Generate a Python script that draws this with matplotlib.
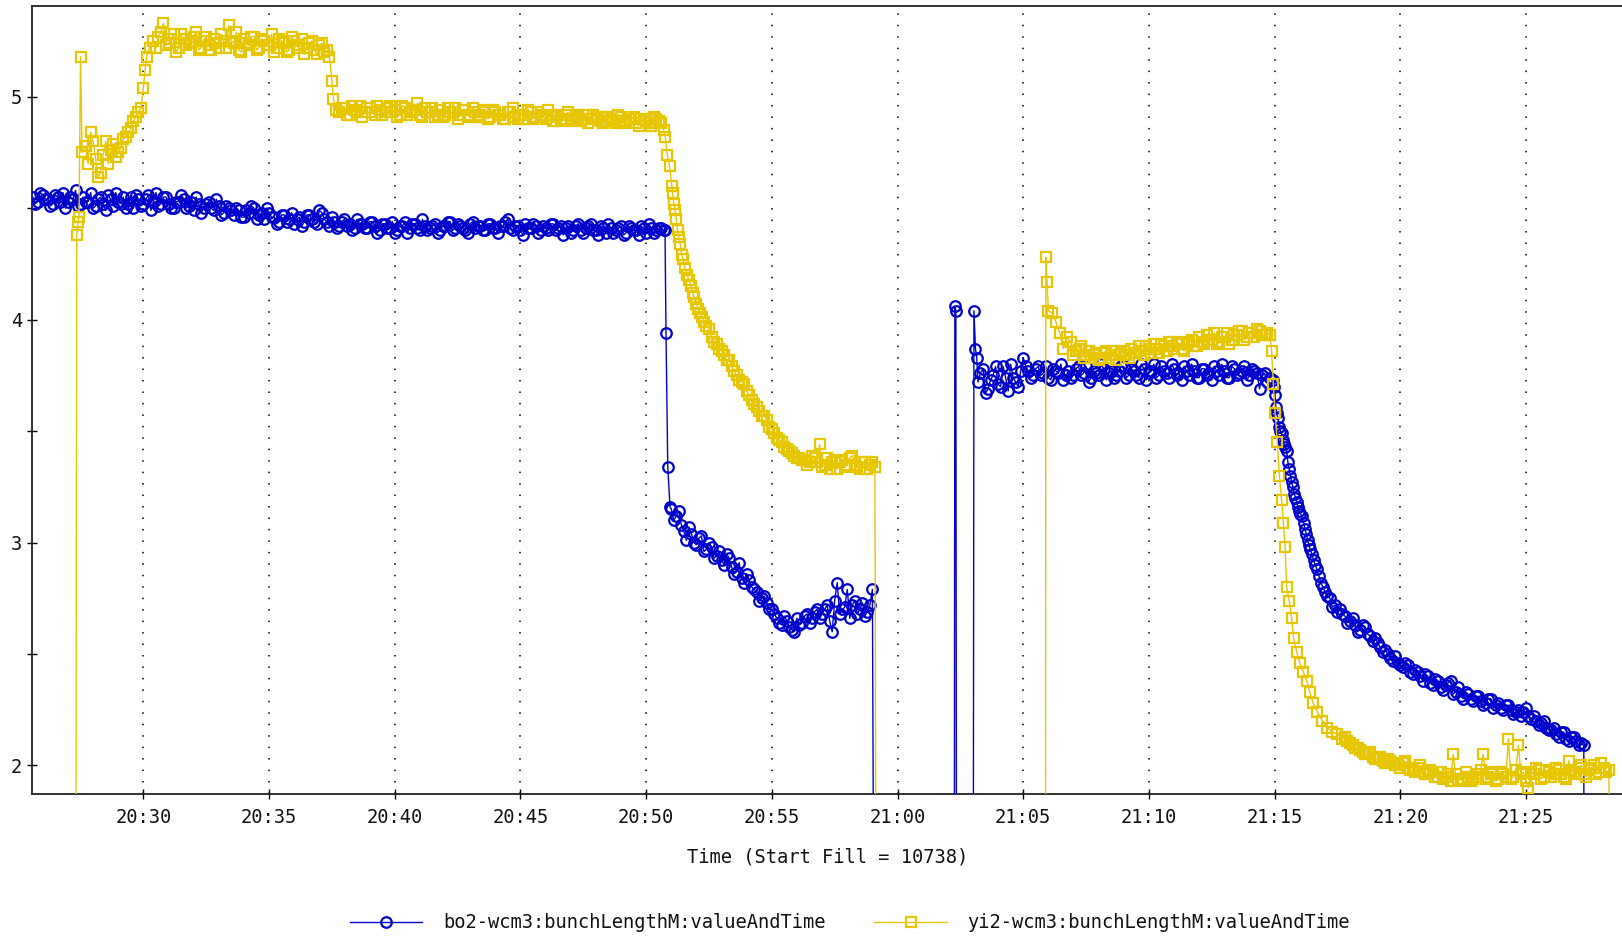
import numpy as np
import matplotlib
matplotlib.use("Agg")
import matplotlib.pyplot as plt
import matplotlib.dates as mdates
from matplotlib.ticker import FixedLocator

# times are minutes after 20:00; steady stretches come as two interleaved
# 12 s readouts (the *2 lists sit 6 s after the first ones)
STEP = 0.2
HALF = 0.1

# ---- bo2-wcm3 (blue) ----
BLUE_A_T0 = 25.6
BLUE_A = [
    4.55, 4.53, 4.56, 4.54, 4.52, 4.55, 4.57, 4.53, 4.54, 4.51,
    4.55, 4.53, 4.50, 4.54, 4.52, 4.56, 4.51, 4.53, 4.55, 4.52,
    4.50, 4.54, 4.52, 4.56, 4.53, 4.51, 4.55, 4.52, 4.50, 4.53,
    4.54, 4.51, 4.49, 4.52, 4.50, 4.53, 4.49, 4.51, 4.48, 4.50,
    4.47, 4.49, 4.46, 4.48, 4.50, 4.47, 4.45, 4.48, 4.46, 4.44,
    4.47, 4.45, 4.43, 4.46, 4.44, 4.47, 4.44, 4.49, 4.45, 4.42,
    4.44, 4.42, 4.45, 4.43, 4.41, 4.43, 4.41, 4.44, 4.42, 4.40,
    4.43, 4.41, 4.39, 4.42, 4.44, 4.41, 4.43, 4.40, 4.42, 4.41,
    4.43, 4.40, 4.42, 4.44, 4.41, 4.42, 4.40, 4.43, 4.41, 4.42,
    4.40, 4.43, 4.41, 4.42, 4.44, 4.41, 4.42, 4.40, 4.43, 4.41,
    4.42, 4.40, 4.41, 4.43, 4.40, 4.42, 4.41, 4.39, 4.42, 4.40,
    4.41, 4.43, 4.40, 4.42, 4.39, 4.41, 4.40, 4.42, 4.39, 4.41,
    4.40, 4.42, 4.39, 4.41, 4.40, 4.41,
]
BLUE_A2 = [
    4.52, 4.57, 4.54, 4.51, 4.56, 4.53, 4.50, 4.55, 4.58, 4.52,
    4.53, 4.57, 4.51, 4.55, 4.49, 4.54, 4.57, 4.52, 4.50, 4.55,
    4.56, 4.51, 4.54, 4.49, 4.57, 4.52, 4.55, 4.50, 4.53, 4.56,
    4.50, 4.53, 4.55, 4.48, 4.52, 4.50, 4.54, 4.47, 4.51, 4.49,
    4.50, 4.46, 4.49, 4.51, 4.45, 4.48, 4.50, 4.46, 4.43, 4.47,
    4.44, 4.48, 4.45, 4.42, 4.47, 4.45, 4.43, 4.48, 4.44, 4.46,
    4.41, 4.44, 4.42, 4.40, 4.45, 4.43, 4.41, 4.44, 4.39, 4.43,
    4.41, 4.44, 4.40, 4.42, 4.39, 4.43, 4.41, 4.45, 4.40, 4.42,
    4.39, 4.42, 4.44, 4.40, 4.43, 4.41, 4.39, 4.44, 4.42, 4.40,
    4.43, 4.41, 4.39, 4.42, 4.45, 4.40, 4.42, 4.38, 4.41, 4.43,
    4.39, 4.42, 4.40, 4.43, 4.41, 4.38, 4.42, 4.40, 4.43, 4.39,
    4.42, 4.40, 4.38, 4.41, 4.43, 4.39, 4.41, 4.38, 4.42, 4.40,
    4.38, 4.41, 4.43, 4.39, 4.41, 4.40,
]
BLUE_DROP_T = [50.75, 50.79, 50.86, 50.95]
BLUE_DROP = [4.40, 3.94, 3.34, 3.16]
BLUE_B_T0 = 51.0
BLUE_B = [
    3.15, 3.12, 3.08, 3.01, 3.04, 2.99, 3.03, 2.97, 2.98, 2.94,
    2.92, 2.95, 2.89, 2.87, 2.84, 2.86, 2.80, 2.78, 2.75, 2.73,
    2.70, 2.66, 2.63, 2.65, 2.61, 2.66, 2.64, 2.68, 2.66, 2.70,
    2.68, 2.72, 2.60, 2.82, 2.70, 2.79, 2.72, 2.68, 2.73, 2.69,
    2.79,
]
BLUE_B2 = [
    3.10, 3.14, 3.05, 3.07, 3.00, 3.02, 2.96, 3.00, 2.93, 2.96,
    2.90, 2.93, 2.86, 2.91, 2.82, 2.83, 2.79, 2.74, 2.76, 2.70,
    2.68, 2.64, 2.67, 2.62, 2.60, 2.63, 2.67, 2.64, 2.69, 2.66,
    2.70, 2.65, 2.74, 2.68, 2.71, 2.66, 2.74, 2.70, 2.67, 2.72,
]
BLUE_GAP_T = [59.1, 62.25, 62.28, 62.32, 62.36, 63.0, 63.04, 63.1, 63.15]
BLUE_GAP = [0.0, 0.0, 4.06, 4.04, 0.0, 0.0, 4.04, 3.87, 3.83]
BLUE_C_T0 = 63.2
BLUE_C = [
    3.72, 3.78, 3.69, 3.75, 3.71, 3.79, 3.68, 3.74, 3.70, 3.83,
    3.77, 3.75, 3.79, 3.76, 3.74, 3.78, 3.76, 3.73, 3.77, 3.75,
    3.79, 3.76, 3.72, 3.77, 3.75, 3.78, 3.76, 3.74, 3.77, 3.79,
    3.75, 3.77, 3.74, 3.78, 3.76, 3.80, 3.75, 3.77, 3.74, 3.78,
    3.76, 3.79, 3.75, 3.77, 3.74, 3.78, 3.76, 3.79, 3.75, 3.77,
    3.74, 3.78, 3.76, 3.79, 3.75, 3.77, 3.69, 3.76, 3.74,
]
BLUE_C2 = [
    3.76, 3.67, 3.73, 3.79, 3.70, 3.74, 3.80, 3.72, 3.77, 3.79,
    3.74, 3.78, 3.75, 3.79, 3.73, 3.77, 3.80, 3.75, 3.74, 3.78,
    3.75, 3.79, 3.74, 3.76, 3.80, 3.73, 3.77, 3.75, 3.79, 3.74,
    3.78, 3.75, 3.80, 3.73, 3.77, 3.74, 3.79, 3.76, 3.80, 3.75,
    3.73, 3.77, 3.80, 3.74, 3.78, 3.75, 3.73, 3.77, 3.80, 3.74,
    3.79, 3.75, 3.77, 3.73, 3.78, 3.76, 3.75, 3.72,
]
BLUE_D_T = [74.95, 75.02, 75.08, 75.18, 75.28, 75.38, 75.48, 75.58, 75.68, 75.78,
            75.88, 75.98, 76.08, 76.21, 76.31, 76.41, 76.55, 76.68, 76.85, 77.0]
BLUE_D = [3.73, 3.66, 3.58, 3.52, 3.49, 3.44, 3.41, 3.33, 3.27, 3.22,
          3.18, 3.14, 3.12, 3.06, 3.01, 2.97, 2.92, 2.88, 2.82, 2.78]
BLUE_D2_T = [74.98, 75.05, 75.13, 75.23, 75.33, 75.43, 75.53, 75.63, 75.73, 75.83,
             75.93, 76.03, 76.15, 76.26, 76.36, 76.48, 76.62, 76.76, 76.92, 77.1]
BLUE_D2 = [3.70, 3.61, 3.56, 3.50, 3.46, 3.43, 3.36, 3.30, 3.25, 3.20,
           3.16, 3.13, 3.09, 3.04, 2.99, 2.95, 2.90, 2.85, 2.80, 2.76]
BLUE_E_T0 = 77.2
BLUE_E = [
    2.75, 2.72, 2.70, 2.67, 2.65, 2.63, 2.61, 2.62, 2.58, 2.57,
    2.53, 2.52, 2.48, 2.49, 2.45, 2.46, 2.42, 2.43, 2.40, 2.41,
    2.37, 2.39, 2.35, 2.36, 2.38, 2.33, 2.31, 2.33, 2.30, 2.31,
    2.29, 2.28, 2.30, 2.27, 2.26, 2.27, 2.25, 2.24, 2.22, 2.26,
    2.21, 2.20, 2.19, 2.17, 2.16, 2.14, 2.15, 2.12, 2.13, 2.11,
    2.10,
]
BLUE_E2 = [
    2.71, 2.69, 2.68, 2.64, 2.66, 2.60, 2.63, 2.59, 2.56, 2.55,
    2.51, 2.50, 2.47, 2.46, 2.44, 2.45, 2.41, 2.42, 2.38, 2.40,
    2.36, 2.38, 2.34, 2.37, 2.32, 2.35, 2.30, 2.32, 2.29, 2.31,
    2.27, 2.30, 2.26, 2.28, 2.25, 2.27, 2.23, 2.25, 2.24, 2.22,
    2.22, 2.18, 2.20, 2.16, 2.17, 2.13, 2.15, 2.11, 2.13, 2.09,
]
BLUE_END_T = [87.3, 87.33]
BLUE_END = [2.09, 0.0]

# ---- yi2-wcm3 (yellow) ----
YEL_START_T = [27.3, 27.35, 27.4, 27.44, 27.5, 27.56]
YEL_START = [0.0, 4.38, 4.44, 4.46, 5.18, 4.75]
YEL_A_T0 = 27.7
YEL_A = [4.78, 4.84, 4.72, 4.66, 4.80, 4.76, 4.73, 4.77, 4.82, 4.86, 4.91, 4.95]
YEL_A2 = [4.70, 4.80, 4.64, 4.74, 4.70, 4.79, 4.75, 4.81, 4.84, 4.89, 4.93]
YEL_RISE_T = [30.0, 30.07, 30.13, 30.25]
YEL_RISE = [5.04, 5.12, 5.18, 5.22]
YEL_P_T0 = 30.4
YEL_P = [
    5.25, 5.27, 5.33, 5.24, 5.28, 5.22, 5.26, 5.24, 5.27, 5.21,
    5.25, 5.23, 5.26, 5.22, 5.25, 5.32, 5.24, 5.21, 5.26, 5.23,
    5.27, 5.22, 5.25, 5.23, 5.20, 5.26, 5.24, 5.21, 5.25, 5.22,
    5.19, 5.24, 5.21, 5.23, 5.20, 5.18,
]
YEL_P2 = [
    5.22, 5.29, 5.23, 5.26, 5.20, 5.28, 5.23, 5.25, 5.29, 5.22,
    5.27, 5.21, 5.24, 5.28, 5.22, 5.25, 5.29, 5.20, 5.24, 5.27,
    5.21, 5.26, 5.23, 5.28, 5.22, 5.25, 5.20, 5.27, 5.23, 5.26,
    5.22, 5.25, 5.19, 5.24, 5.21,
]
YEL_STEP_T = [37.5, 37.56, 37.65]
YEL_STEP = [5.07, 4.99, 4.94]
YEL_B_T0 = 37.8
YEL_B = [
    4.93, 4.95, 4.92, 4.94, 4.96, 4.93, 4.95, 4.92, 4.94, 4.93,
    4.96, 4.94, 4.92, 4.95, 4.93, 4.94, 4.92, 4.95, 4.93, 4.91,
    4.94, 4.92, 4.93, 4.95, 4.92, 4.94, 4.91, 4.93, 4.92, 4.94,
    4.91, 4.93, 4.92, 4.90, 4.93, 4.91, 4.92, 4.90, 4.93, 4.91,
    4.92, 4.90, 4.92, 4.91, 4.89, 4.92, 4.90, 4.91, 4.89, 4.92,
    4.90, 4.91, 4.89, 4.91, 4.90, 4.88, 4.91, 4.89, 4.90, 4.88,
    4.90, 4.89, 4.87, 4.90, 4.88,
]
YEL_B2 = [
    4.95, 4.92, 4.96, 4.93, 4.91, 4.95, 4.93, 4.96, 4.92, 4.95,
    4.93, 4.91, 4.96, 4.92, 4.94, 4.97, 4.91, 4.93, 4.95, 4.92,
    4.91, 4.95, 4.93, 4.90, 4.94, 4.92, 4.95, 4.91, 4.93, 4.90,
    4.94, 4.92, 4.90, 4.93, 4.95, 4.90, 4.92, 4.94, 4.90, 4.93,
    4.91, 4.94, 4.89, 4.92, 4.90, 4.93, 4.89, 4.92, 4.90, 4.88,
    4.92, 4.90, 4.88, 4.91, 4.89, 4.92, 4.88, 4.90, 4.91, 4.87,
    4.90, 4.88, 4.91, 4.89,
]
YEL_C_T = [50.7, 50.76, 50.84, 50.93, 51.02, 51.1, 51.2, 51.3, 51.42, 51.55,
           51.7, 51.85, 52.0, 52.15, 52.3, 52.5, 52.7, 52.9, 53.1, 53.3,
           53.5, 53.7, 53.9, 54.1, 54.3, 54.5, 54.7, 54.9, 55.1, 55.3,
           55.5, 55.7, 55.9, 56.1]
YEL_C = [4.85, 4.82, 4.74, 4.69, 4.60, 4.52, 4.45, 4.37, 4.29, 4.23,
         4.18, 4.12, 4.07, 4.03, 3.99, 3.96, 3.90, 3.87, 3.84, 3.82,
         3.77, 3.73, 3.71, 3.66, 3.62, 3.59, 3.57, 3.52, 3.49, 3.46,
         3.43, 3.41, 3.39, 3.38]
YEL_C2_T = [51.05, 51.15, 51.25, 51.36, 51.48, 51.62, 51.78, 51.92, 52.08, 52.22,
            52.4, 52.6, 52.8, 53.0, 53.2, 53.4, 53.6, 53.8, 54.0, 54.2,
            54.4, 54.6, 54.8, 55.0, 55.2, 55.4, 55.6, 55.8, 56.0, 56.2]
YEL_C2 = [4.57, 4.49, 4.40, 4.34, 4.27, 4.20, 4.15, 4.10, 4.05, 4.01,
          3.97, 3.92, 3.89, 3.86, 3.82, 3.79, 3.75, 3.72, 3.68, 3.64,
          3.61, 3.57, 3.55, 3.51, 3.47, 3.45, 3.42, 3.40, 3.38, 3.37]
YEL_D_T0 = 56.3
YEL_D = [3.37, 3.36, 3.38, 3.44, 3.35, 3.33, 3.37, 3.36, 3.34, 3.38,
         3.35, 3.33, 3.36, 3.35, 3.34]
YEL_D2 = [3.35, 3.39, 3.36, 3.34, 3.38, 3.36, 3.33, 3.37, 3.35, 3.39,
          3.34, 3.36, 3.33, 3.36]
YEL_GAP_T = [59.17, 65.88, 65.9, 65.95, 66.0, 66.15, 66.3, 66.45, 66.6, 66.75]
YEL_GAP = [0.0, 0.0, 4.28, 4.17, 4.04, 4.03, 3.99, 3.94, 3.87, 3.92]
YEL_E_T0 = 66.9
YEL_E = [
    3.90, 3.86, 3.88, 3.84, 3.83, 3.85, 3.83, 3.86, 3.84, 3.82,
    3.85, 3.84, 3.87, 3.85, 3.86, 3.88, 3.85, 3.87, 3.89, 3.86,
    3.88, 3.90, 3.87, 3.89, 3.91, 3.88, 3.90, 3.93, 3.91, 3.89,
    3.92, 3.94, 3.91, 3.93, 3.95, 3.92, 3.94, 3.96, 3.93, 3.94,
]
YEL_E2 = [
    3.84, 3.87, 3.83, 3.86, 3.84, 3.82, 3.85, 3.83, 3.86, 3.84,
    3.86, 3.83, 3.85, 3.88, 3.84, 3.87, 3.89, 3.85, 3.88, 3.90,
    3.87, 3.89, 3.86, 3.90, 3.88, 3.92, 3.89, 3.91, 3.94, 3.90,
    3.92, 3.89, 3.93, 3.95, 3.91, 3.94, 3.92, 3.95, 3.93,
]
YEL_F_T = [74.82, 74.88, 74.95, 75.02, 75.11, 75.19, 75.28, 75.35, 75.42, 75.48,
           75.58, 75.68, 75.76, 75.88, 76.0, 76.14, 76.28, 76.4, 76.53, 76.7,
           76.9, 77.1, 77.3, 77.5]
YEL_F = [3.93, 3.86, 3.71, 3.58, 3.45, 3.30, 3.19, 3.09, 2.98, 2.80,
         2.74, 2.66, 2.57, 2.51, 2.46, 2.42, 2.38, 2.33, 2.28, 2.24,
         2.20, 2.17, 2.15, 2.14]
YEL_G_T0 = 77.7
YEL_G = [
    2.12, 2.11, 2.09, 2.08, 2.06, 2.05, 2.04, 2.03, 2.02, 2.03,
    2.01, 2.00, 2.01, 1.99, 1.98, 1.99, 1.97, 1.96, 1.97, 1.95,
    1.94, 1.96, 2.05, 1.94, 1.93, 1.95, 1.94, 1.96, 2.05, 1.95,
    1.97, 1.94, 1.96, 2.12, 1.95, 2.09, 1.97, 1.90, 1.96, 1.98,
    1.95, 1.97, 1.96, 1.98, 1.95, 2.02, 1.97, 1.99, 1.96, 1.98,
    2.00, 1.97, 1.99, 1.98,
]
YEL_G2 = [
    2.13, 2.10, 2.08, 2.07, 2.05, 2.06, 2.03, 2.04, 2.01, 2.02,
    2.00, 1.99, 2.02, 1.98, 1.97, 2.00, 1.96, 1.98, 1.95, 1.97,
    1.95, 1.93, 1.96, 1.94, 1.97, 1.93, 1.95, 1.98, 1.94, 1.96,
    1.93, 1.97, 1.95, 1.94, 1.98, 1.96, 1.93, 1.97, 1.99, 1.94,
    1.98, 1.95, 1.99, 1.96, 1.94, 1.98, 1.96, 2.00, 1.95, 1.99,
    1.96, 2.01, 1.97,
]
YEL_END_T = [88.4]
YEL_END = [0.0]

BLUE = "#0000cc"
YELLOW = "#e6c600"
BASE = np.datetime64("2000-01-01T20:00:00")


def run(t0, vals):
    return [t0 + STEP * i for i in range(len(vals))], list(vals)


def series(*pieces):
    ts, vs = [], []
    for t, v in pieces:
        ts += list(t)
        vs += list(v)
    ts, vs = np.array(ts), np.array(vs)
    order = np.argsort(ts, kind="stable")
    ms = np.round(ts[order] * 60000).astype("timedelta64[ms]")
    return BASE + ms, vs[order]


def when(minutes):
    return BASE + np.timedelta64(int(round(minutes * 60000)), "ms")


bt, bv = series(
    run(BLUE_A_T0, BLUE_A), run(BLUE_A_T0 + HALF, BLUE_A2),
    (BLUE_DROP_T, BLUE_DROP),
    run(BLUE_B_T0, BLUE_B), run(BLUE_B_T0 + HALF, BLUE_B2),
    (BLUE_GAP_T, BLUE_GAP),
    run(BLUE_C_T0, BLUE_C), run(BLUE_C_T0 + HALF, BLUE_C2),
    (BLUE_D_T, BLUE_D), (BLUE_D2_T, BLUE_D2),
    run(BLUE_E_T0, BLUE_E), run(BLUE_E_T0 + HALF, BLUE_E2),
    (BLUE_END_T, BLUE_END),
)
yt, yv = series(
    (YEL_START_T, YEL_START),
    run(YEL_A_T0, YEL_A), run(YEL_A_T0 + HALF, YEL_A2),
    (YEL_RISE_T, YEL_RISE),
    run(YEL_P_T0, YEL_P), run(YEL_P_T0 + HALF, YEL_P2),
    (YEL_STEP_T, YEL_STEP),
    run(YEL_B_T0, YEL_B), run(YEL_B_T0 + HALF, YEL_B2),
    (YEL_C_T, YEL_C), (YEL_C2_T, YEL_C2),
    run(YEL_D_T0, YEL_D), run(YEL_D_T0 + HALF, YEL_D2),
    (YEL_GAP_T, YEL_GAP),
    run(YEL_E_T0, YEL_E), run(YEL_E_T0 + HALF, YEL_E2),
    (YEL_F_T, YEL_F),
    run(YEL_G_T0, YEL_G), run(YEL_G_T0 + HALF, YEL_G2),
    (YEL_END_T, YEL_END),
)

plt.rcParams["font.family"] = ["DejaVu Sans Mono"]
fig = plt.figure(figsize=(16.22, 9.38), dpi=100)
fig.patch.set_facecolor("white")
ax = fig.add_axes([0.0199, 0.1535, 0.9801, 0.8401])

lb, = ax.plot(bt, bv, color=BLUE, lw=1.0, marker="o", ms=7.6, mfc="none",
              mec=BLUE, mew=1.6, zorder=3)
ly, = ax.plot(yt, yv, color=YELLOW, lw=1.0, marker="s", ms=7.2, mfc="none",
              mec=YELLOW, mew=1.6, zorder=4)

ax.set_xlim(when(25.58), when(88.82))
ax.set_ylim(1.872, 5.407)

ax.xaxis.set_major_locator(mdates.MinuteLocator(byminute=range(0, 60, 5)))
ax.xaxis.set_major_formatter(mdates.DateFormatter("%H:%M"))
ax.yaxis.set_major_locator(FixedLocator([2, 3, 4, 5]))
ax.yaxis.set_minor_locator(FixedLocator([2.5, 3.5, 4.5]))

ax.tick_params(axis="both", which="both", direction="inout", length=6.5,
               width=1.0, color="black", labelsize=13.5, labelcolor="#111111")
ax.tick_params(axis="x", pad=7)
ax.tick_params(axis="y", pad=4)

ax.grid(axis="x", which="major", color="black", linestyle=(0, (1, 6.5)), lw=1.1)
ax.set_axisbelow(True)

for side in ("left", "top", "bottom"):
    ax.spines[side].set_linewidth(1.3)
    ax.spines[side].set_color("#222222")
ax.spines["right"].set_visible(False)

ax.set_xlabel("Time (Start Fill = 10738)", fontsize=13.5, va="center", color="#111111")
ax.xaxis.set_label_coords(0.5, -0.0793)

fig.legend([lb, ly],
           ["bo2-wcm3:bunchLengthM:valueAndTime", "yi2-wcm3:bunchLengthM:valueAndTime"],
           loc="center", bbox_to_anchor=(0.524, 0.0163), ncol=2, frameon=False,
           fontsize=13.5, handlelength=3.87, handletextpad=1.1, columnspacing=2.6,
           numpoints=1, labelcolor="#111111")

fig.savefig("out.png", dpi=100, facecolor="white")
